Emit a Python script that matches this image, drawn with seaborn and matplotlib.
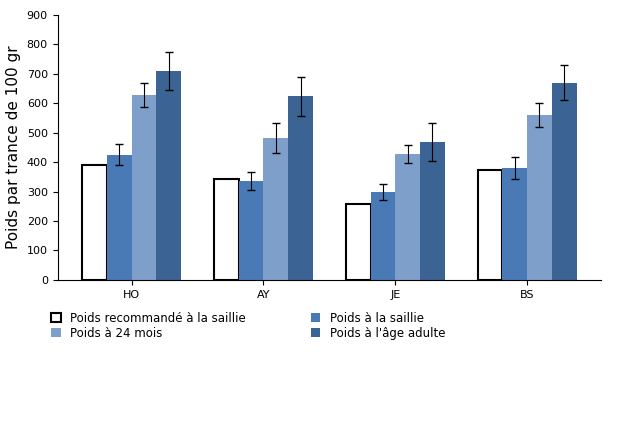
import matplotlib
matplotlib.use("Agg")
import matplotlib.pyplot as plt
import seaborn as sns
import pandas as pd
import numpy as np
from matplotlib.patches import Patch

categories = ["HO", "AY", "JE", "BS"]
series = ["Poids recommandé à la saillie", "Poids à la saillie", "Poids à 24 mois", "Poids à l'âge adulte"]
recommande = [390, 343, 258, 372]
saillie = [425, 335, 297, 380]
mois24 = [628, 482, 428, 560]
adulte = [710, 623, 468, 670]
err_saillie = [35, 30, 27, 37]
err_24 = [40, 50, 30, 42]
err_adulte = [65, 65, 65, 60]

vals = [recommande, saillie, mois24, adulte]
errs = [None, err_saillie, err_24, err_adulte]
rows = []
for s, v in zip(series, vals):
    for c, x in zip(categories, v):
        rows.append({"cat": c, "serie": s, "val": x})
df = pd.DataFrame(rows)

colors = ["white", "#4a7ab5", "#7f9fcb", "#3b6494"]
fig = plt.figure(figsize=(6.25, 4.24), dpi=100)
ax = fig.add_axes([0.092, 0.34, 0.87, 0.625])
sns.barplot(data=df, x="cat", y="val", hue="serie", palette=colors, width=0.75,
            gap=0.0, ax=ax, legend=False, errorbar=None, saturation=1)
for i, p in enumerate(ax.patches[:16]):
    si = i // 4
    ci = i % 4
    if si == 0:
        p.set_edgecolor("black"); p.set_linewidth(1.5)
    else:
        p.set_edgecolor("none")
        x = p.get_x() + p.get_width() / 2
        ax.errorbar(x, p.get_height(), yerr=errs[si][ci], color="black", capsize=3, lw=0.8)
ax.set_ylim(0, 900)
ax.set_yticks(range(0, 901, 100))
ax.set_xlabel("")
ax.set_ylabel("Poids par trance de 100 gr", fontsize=11)
ax.tick_params(labelsize=8)
for s in ["top", "right"]:
    ax.spines[s].set_visible(False)
handles = [Patch(facecolor=c, edgecolor="black" if i == 0 else c, lw=1.5 if i == 0 else 0) for i, c in enumerate(colors)]
order = [0, 2, 1, 3]
fig.legend([handles[i] for i in order], [series[i] for i in order], ncol=2, frameon=False,
           loc="upper left", bbox_to_anchor=(0.065, 0.29), fontsize=8.5, handlelength=0.8,
           handleheight=0.8, columnspacing=5.5, labelspacing=0.2)
fig.savefig("out.png", dpi=100)
